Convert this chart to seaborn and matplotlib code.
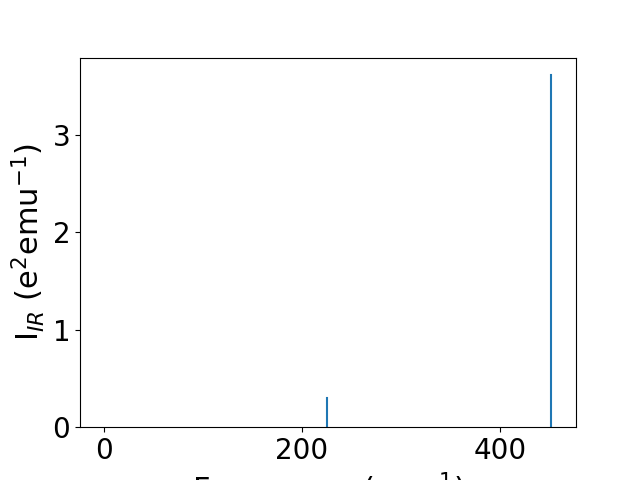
import matplotlib
matplotlib.use("Agg")
import matplotlib.pyplot as plt
import seaborn as sns
import pandas as pd

# Data
frequencies = [225.5, 451.5]          # cm^-1
intensities = [0.30, 3.61]            # e^2 emu^-1
x_ticks = [0, 200, 400]
y_ticks = [0, 1, 2, 3]

# Long-form table: each mode is a stick from 0 up to its intensity
rows = []
for i, (f, s) in enumerate(zip(frequencies, intensities)):
    rows.append({"mode": i, "freq": f, "inten": 0.0})
    rows.append({"mode": i, "freq": f, "inten": s})
df = pd.DataFrame(rows)

plt.rcParams["font.family"] = ["DejaVu Sans"]
fig, ax = plt.subplots(figsize=(6.4, 4.8), dpi=100)
sns.lineplot(data=df, x="freq", y="inten", units="mode", estimator=None,
             color="#1f77b4", linewidth=1.5, sort=False, ax=ax)

ax.set_xlim(-24.2, 476.6)
ax.set_ylim(0, 3.79)
ax.set_xticks(x_ticks)
ax.set_yticks(y_ticks)
ax.tick_params(labelsize=20)
ax.set_xlabel(r"Frequency (cm$^{-1}$)", fontsize=22)
ax.set_ylabel(r"I$_{IR}$ (e$^{2}$emu$^{-1}$)", fontsize=22)

fig.savefig("out.png", dpi=100)
